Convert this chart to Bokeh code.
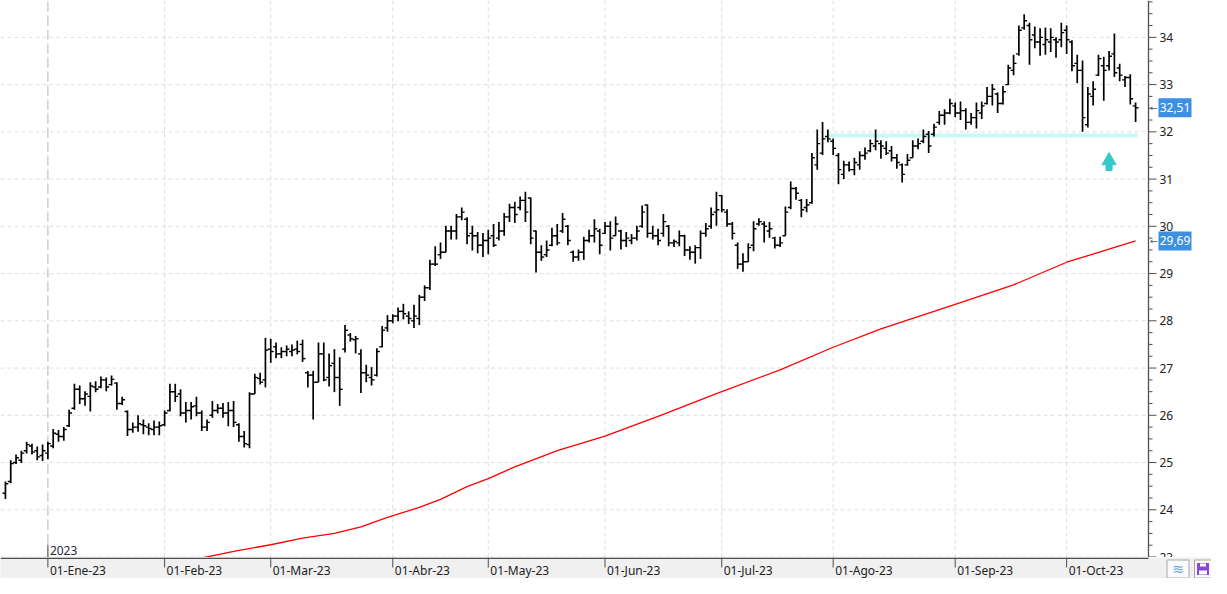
import pandas as pd
from bokeh.plotting import figure
from bokeh.layouts import column
from bokeh.models import Range1d, Span, Label, ColumnDataSource
from bokeh.core.properties import value
from bokeh.embed import file_html
from bokeh.resources import INLINE

# ---------------- data ----------------
highs = [24.60, 25.05, 25.17, 25.25, 25.44, 25.40, 25.34, 25.38, 25.44, 25.71,
         25.69, 25.75, 26.12, 26.67, 26.63, 26.51, 26.70, 26.72, 26.82, 26.80,
         26.84, 26.70, 26.39, 26.10, 25.85, 26.00, 25.91, 25.83, 25.89, 25.87,
         26.10, 26.67, 26.67, 26.55, 26.28, 26.28, 26.39, 26.10, 25.91, 26.30,
         26.24, 26.26, 26.28, 26.30, 25.83, 25.67, 26.49, 26.88, 26.90, 27.64,
         27.62, 27.54, 27.44, 27.48, 27.50, 27.58, 27.60, 26.94, 26.94, 27.54,
         27.54, 27.31, 27.40, 27.23, 27.91, 27.74, 27.68, 27.40, 27.07, 27.02,
         27.42, 27.89, 28.12, 28.14, 28.28, 28.36, 28.20, 28.34, 28.55, 28.75,
         29.29, 29.58, 29.66, 30.01, 30.01, 30.26, 30.40, 30.19, 30.01, 29.88,
         29.86, 29.93, 30.05, 30.09, 30.28, 30.48, 30.52, 30.63, 30.73, 30.61,
         29.91, 29.60, 29.70, 29.97, 30.05, 30.28, 30.03, 29.49, 29.51, 29.78,
         29.93, 30.15, 29.95, 30.09, 30.11, 30.21, 29.93, 29.88, 29.84, 30.01,
         30.44, 30.46, 30.01, 29.95, 30.26, 30.03, 29.72, 29.91, 29.82, 29.58,
         29.60, 29.91, 30.07, 30.40, 30.73, 30.67, 30.36, 30.09, 29.66, 29.43,
         29.64, 30.11, 30.17, 30.11, 30.09, 29.78, 29.78, 30.42, 30.95, 30.83,
         30.58, 30.58, 31.55, 32.05, 32.21, 32.05, 31.86, 31.55, 31.39, 31.37,
         31.45, 31.59, 31.67, 31.84, 32.05, 31.82, 31.80, 31.70, 31.53, 31.33,
         31.53, 31.82, 31.86, 32.05, 32.02, 32.17, 32.44, 32.48, 32.70, 32.62,
         32.64, 32.50, 32.40, 32.62, 32.64, 32.95, 33.01, 32.83, 32.97, 33.42,
         33.63, 34.25, 34.49, 34.31, 34.23, 34.19, 34.21, 34.19, 34.00, 34.31,
         34.25, 33.94, 33.63, 33.51, 32.95, 33.07, 33.63, 33.59, 33.71, 34.08,
         33.44, 33.18, 33.22, 32.62]

lows = [24.23, 24.56, 24.97, 24.99, 25.19, 25.17, 25.05, 25.03, 25.07, 25.30,
        25.44, 25.46, 25.75, 26.12, 26.24, 26.20, 26.08, 26.49, 26.57, 26.51,
        26.63, 26.12, 26.22, 25.56, 25.63, 25.65, 25.60, 25.58, 25.58, 25.58,
        25.77, 26.08, 26.28, 25.98, 25.85, 25.91, 25.98, 25.67, 25.67, 25.95,
        26.04, 25.95, 25.77, 25.75, 25.44, 25.32, 25.30, 26.45, 26.65, 26.59,
        27.11, 27.21, 27.21, 27.25, 27.25, 27.29, 27.13, 26.59, 25.91, 26.70,
        26.72, 26.61, 26.49, 26.20, 27.33, 27.56, 27.31, 26.47, 26.70, 26.63,
        26.82, 27.44, 27.77, 27.95, 27.99, 28.03, 27.93, 27.85, 27.91, 28.42,
        28.65, 29.16, 29.31, 29.45, 29.72, 29.72, 30.13, 29.62, 29.49, 29.43,
        29.35, 29.41, 29.56, 29.70, 29.80, 30.09, 30.07, 30.34, 30.09, 29.62,
        29.02, 29.27, 29.35, 29.58, 29.60, 29.86, 29.60, 29.25, 29.27, 29.29,
        29.66, 29.66, 29.41, 29.84, 29.49, 29.80, 29.51, 29.56, 29.62, 29.70,
        29.97, 29.76, 29.72, 29.60, 29.78, 29.58, 29.56, 29.58, 29.37, 29.29,
        29.21, 29.31, 29.78, 29.95, 30.01, 30.30, 29.99, 29.72, 29.10, 29.04,
        29.25, 29.47, 30.01, 29.66, 29.76, 29.53, 29.56, 29.80, 30.36, 30.56,
        30.19, 30.30, 30.48, 31.20, 31.51, 31.78, 31.51, 30.89, 31.00, 31.16,
        31.08, 31.20, 31.41, 31.57, 31.61, 31.43, 31.51, 31.37, 31.22, 30.93,
        31.28, 31.45, 31.63, 31.76, 31.55, 31.90, 32.15, 32.15, 32.37, 32.31,
        32.25, 32.05, 32.15, 32.07, 32.27, 32.58, 32.56, 32.40, 32.58, 32.99,
        33.20, 33.61, 34.16, 33.42, 33.77, 33.61, 33.63, 33.69, 33.57, 33.79,
        33.65, 33.28, 33.03, 32.00, 32.09, 32.56, 33.18, 32.66, 33.30, 33.16,
        33.07, 32.95, 32.58, 32.21]

opens = [24.35, 24.60, 25.00, 25.05, 25.25, 25.35, 25.25, 25.15, 25.20, 25.35,
         25.60, 25.55, 25.78, 26.15, 26.55, 26.35, 26.40, 26.60, 26.60, 26.75,
         26.65, 26.68, 26.25, 26.08, 25.70, 25.75, 25.80, 25.75, 25.70, 25.75,
         25.80, 26.10, 26.50, 26.45, 26.05, 26.10, 26.20, 26.05, 25.75, 26.00,
         26.10, 26.15, 26.05, 26.10, 25.80, 25.55, 25.38, 26.45, 26.78, 26.75,
         27.40, 27.45, 27.30, 27.35, 27.35, 27.40, 27.50, 26.90, 26.85, 26.70,
         27.30, 26.80, 27.10, 26.80, 27.40, 27.70, 27.60, 27.30, 26.90, 26.80,
         26.85, 27.45, 27.85, 28.00, 28.10, 28.20, 28.10, 28.00, 28.05, 28.50,
         28.70, 29.20, 29.40, 29.45, 29.90, 29.90, 30.20, 30.15, 29.85, 29.80,
         29.60, 29.70, 29.80, 29.75, 29.90, 30.20, 30.40, 30.40, 30.55, 30.60,
         29.90, 29.45, 29.40, 29.60, 29.80, 29.90, 30.00, 29.45, 29.35, 29.45,
         29.70, 29.80, 29.90, 29.85, 30.00, 29.80, 29.90, 29.70, 29.70, 29.75,
         30.00, 30.45, 29.85, 29.80, 29.85, 30.00, 29.65, 29.65, 29.80, 29.50,
         29.45, 29.55, 29.85, 30.00, 30.30, 30.65, 30.30, 30.05, 29.60, 29.20,
         29.25, 29.60, 30.05, 30.05, 29.90, 29.75, 29.60, 29.80, 30.40, 30.80,
         30.55, 30.40, 30.50, 31.30, 31.55, 31.90, 31.80, 31.50, 31.10, 31.30,
         31.20, 31.30, 31.50, 31.60, 31.70, 31.75, 31.65, 31.60, 31.45, 31.30,
         31.30, 31.45, 31.70, 31.80, 31.95, 31.95, 32.20, 32.35, 32.40, 32.55,
         32.40, 32.45, 32.20, 32.30, 32.40, 32.60, 32.75, 32.80, 32.60, 33.00,
         33.30, 33.65, 34.20, 34.25, 34.05, 33.90, 33.85, 33.90, 33.95, 33.95,
         34.15, 33.90, 33.45, 33.30, 32.15, 32.75, 33.20, 33.40, 33.40, 33.65,
         33.35, 33.10, 33.15, 32.55]

closes = [24.55, 24.98, 25.10, 25.20, 25.38, 25.22, 25.12, 25.25, 25.40, 25.62,
          25.55, 25.70, 26.05, 26.55, 26.35, 26.45, 26.62, 26.55, 26.75, 26.60,
          26.76, 26.25, 26.33, 25.70, 25.75, 25.82, 25.78, 25.72, 25.75, 25.78,
          26.05, 26.50, 26.40, 26.05, 26.10, 26.18, 26.05, 25.75, 25.85, 26.10,
          26.15, 26.05, 26.10, 25.85, 25.55, 25.40, 26.45, 26.80, 26.70, 27.38,
          27.35, 27.30, 27.35, 27.40, 27.38, 27.35, 27.20, 26.85, 26.70, 27.30,
          26.75, 27.05, 26.80, 26.55, 27.80, 27.62, 27.62, 26.90, 26.85, 26.75,
          27.35, 27.80, 28.00, 28.10, 28.20, 28.15, 28.05, 28.10, 28.50, 28.70,
          29.20, 29.20, 29.45, 29.90, 29.90, 30.20, 30.30, 29.80, 29.80, 29.60,
          29.70, 29.75, 29.60, 29.90, 30.20, 30.40, 30.25, 30.55, 30.30, 29.75,
          29.45, 29.35, 29.50, 29.80, 29.65, 30.15, 29.70, 29.35, 29.45, 29.70,
          29.80, 29.95, 29.60, 30.00, 29.75, 30.05, 29.70, 29.75, 29.75, 29.90,
          30.30, 29.85, 29.80, 29.70, 30.10, 29.65, 29.68, 29.80, 29.50, 29.45,
          29.55, 29.85, 29.95, 30.25, 30.35, 30.35, 30.05, 29.85, 29.20, 29.25,
          29.55, 29.95, 30.10, 30.00, 29.95, 29.60, 29.65, 30.30, 30.80, 30.70,
          30.35, 30.45, 31.45, 31.75, 31.85, 31.85, 31.65, 31.20, 31.30, 31.20,
          31.35, 31.50, 31.55, 31.75, 31.80, 31.70, 31.55, 31.45, 31.35, 31.10,
          31.40, 31.70, 31.75, 31.90, 31.70, 32.10, 32.35, 32.40, 32.60, 32.40,
          32.45, 32.20, 32.30, 32.45, 32.55, 32.75, 32.90, 32.60, 32.85, 33.35,
          33.45, 34.15, 34.35, 33.95, 33.90, 34.00, 33.95, 34.00, 33.90, 34.10,
          33.95, 33.40, 33.30, 32.30, 32.80, 32.90, 33.55, 33.30, 33.60, 33.25,
          33.20, 33.15, 32.70, 32.51]

# 200-session moving average, read at a few sessions (bar index, value)
ma_idx = [37, 44, 50, 56, 62, 67, 72, 78, 82, 87, 91, 96, 104, 113, 124,
          134, 146, 156, 165, 179, 190, 200, 213]
ma_val = [22.98, 23.14, 23.26, 23.40, 23.50, 23.64, 23.84, 24.05, 24.22, 24.49,
          24.66, 24.91, 25.25, 25.56, 26.02, 26.46, 26.96, 27.44, 27.83, 28.35,
          28.76, 29.24, 29.69]

support_level = 31.92
support_from, support_to = 155, 213
arrow_idx, arrow_price = 208, 31.39

price_ticks = list(range(23, 35))
last_close_label = "32,51"
ma_last_label = "29,69"
year_label = "2023"

meses = ["Ene", "Feb", "Mar", "Abr", "May", "Jun", "Jul", "Ago", "Sep", "Oct", "Nov", "Dic"]
holidays = ["2022-12-26", "2023-04-07", "2023-04-10", "2023-05-01"]
dates = pd.bdate_range("2022-12-20", "2023-10-19", freq="C", holidays=holidays)
n = len(highs)
dates = dates[:n]
idx = list(range(n))

month_ticks = [i for i in range(1, n) if dates[i].month != dates[i - 1].month]
month_labels = ["01-%s-%s" % (meses[dates[i].month - 1], dates[i].strftime("%y"))
                for i in month_ticks]
year_start = month_ticks[0]

# ---------------- layout constants ----------------
W = 1211
MAIN_H, STRIP_H = 557, 21
RB = 63                          # width of the price-scale area on the right
FW = W - RB
X0, X1 = -0.93, 215.43           # visible bar range of the chart area
Y0, Y1 = 22.99, 34.78
FONT = "Noto Sans"
PX = (X1 - X0) / FW              # data units per pixel (x)
PY = (Y1 - Y0) / MAIN_H          # data units per pixel (y)
XE = X0 + W * PX                 # right edge of the canvas in data units
AX = "#505050"

# ---------------- main chart ----------------
p = figure(width=W, height=MAIN_H, x_range=Range1d(X0, XE), y_range=Range1d(Y0, Y1),
           output_backend="svg", toolbar_location=None, x_axis_location=None,
           y_axis_location=None, min_border=0,
           background_fill_color="white", border_fill_color="white", outline_line_color=None)
p.grid.visible = False

# dashed grid
p.segment(x0=[X0] * len(price_ticks), x1=[X1] * len(price_ticks), y0=price_ticks,
          y1=price_ticks, line_color="#dedede", line_dash="4 3", line_width=1)
p.segment(x0=month_ticks, x1=month_ticks, y0=[Y0] * len(month_ticks),
          y1=[Y1] * len(month_ticks), line_color="#dedede", line_dash="4 3", line_width=1)

# year separator
p.segment(x0=[year_start], x1=[year_start], y0=[Y0], y1=[Y1], line_color="#bdbdbd",
          line_dash="9 5", line_width=1)
p.segment(x0=[year_start], x1=[year_start], y0=[Y0], y1=[Y0 + 13 * PY],
          line_color=AX, line_width=1)
p.text(x=[year_start], y=[Y0 + 3 * PY], text=[year_label], x_offset=2,
       text_baseline="bottom", text_align="left", text_font=value(FONT),
       text_font_size="12px", text_color="#2a2a3a")

# support line
p.segment(x0=[support_from], x1=[support_to + 0.4], y0=[support_level], y1=[support_level],
          line_color="#c9f7f7", line_width=4)

# moving average
p.line(ma_idx, ma_val, line_color="#ff0000", line_width=1.3)

# OHLC bars
src = ColumnDataSource(dict(i=idx, il=[i - 0.55 for i in idx], ir=[i + 0.55 for i in idx],
                            o=opens, h=highs, l=lows, c=closes))
p.segment(x0="i", y0="l", x1="i", y1="h", source=src, line_color="black", line_width=1.7)
p.segment(x0="il", y0="o", x1="i", y1="o", source=src, line_color="black", line_width=1.4)
p.segment(x0="i", y0="c", x1="ir", y1="c", source=src, line_color="black", line_width=1.4)

# up arrow marker (head + shaft)
p.scatter([arrow_idx], [arrow_price], marker="triangle", size=14,
          fill_color="#35c9c9", line_color="#35c9c9")
p.scatter([arrow_idx], [arrow_price - 7 * PY], marker="square", size=6,
          fill_color="#35c9c9", line_color="#35c9c9")

# price scale (right)
minor = [t + q for t in [22] + price_ticks for q in (0.25, 0.5, 0.75)]
p.segment(x0=[X1], x1=[X1], y0=[Y0], y1=[Y1], line_color=AX, line_width=1.3)
p.segment(x0=[X1] * len(price_ticks), x1=[X1 + 8 * PX] * len(price_ticks),
          y0=price_ticks, y1=price_ticks, line_color=AX, line_width=1)
p.segment(x0=[X1] * len(minor), x1=[X1 + 4 * PX] * len(minor),
          y0=minor, y1=minor, line_color=AX, line_width=1)
p.text(x=[X1 + 11 * PX] * len(price_ticks), y=price_ticks,
       text=[str(t) for t in price_ticks], text_baseline="middle", text_align="left",
       text_font=value(FONT), text_font_size="12px", text_color="#222222")

# price tags
tag_vals = [closes[-1], ma_val[-1]]
tag_txt = [last_close_label, ma_last_label]
p.rect(x=[X1 + 26.5 * PX] * 2, y=tag_vals, width=[33 * PX] * 2, height=[19 * PY] * 2,
       fill_color="#3d8fe3", line_color=None)
p.text(x=[X1 + 26.5 * PX] * 2, y=tag_vals, text=tag_txt, text_baseline="middle",
       text_align="center", text_font=value(FONT), text_font_size="12px",
       text_color="white")
p.text(x=[X1 + 1.5 * PX] * 2, y=tag_vals, text=["\u2190", "\u2190"], text_baseline="middle",
       text_align="left", text_font=value("DejaVu Sans"), text_font_size="9px",
       text_color="#555555")

# ---------------- date strip (x axis) ----------------
s = figure(width=W, height=STRIP_H, x_range=Range1d(X0, XE), y_range=Range1d(0, STRIP_H),
           output_backend="svg", toolbar_location=None, x_axis_location=None,
           y_axis_location=None, min_border=0, background_fill_color="#f0f0f0",
           border_fill_color="#f0f0f0", outline_line_color=None)
s.grid.visible = False

s.segment(x0=[X0], x1=[X1], y0=[STRIP_H - 0.75], y1=[STRIP_H - 0.75],
          line_color="#4d4d4d", line_width=1.5)
s.segment(x0=month_ticks, x1=month_ticks, y0=[STRIP_H] * len(month_ticks),
          y1=[STRIP_H - 10] * len(month_ticks), line_color="#4d4d4d", line_width=1)
s.text(x=month_ticks, y=[STRIP_H - 13] * len(month_ticks), text=month_labels,
       x_offset=2, text_baseline="middle", text_align="left",
       text_font=value(FONT), text_font_size="12px", text_color="#222222")

# small tool icons at the right end of the strip
ic = [X1 + 29.5 * PX, X1 + 54.5 * PX]
s.rect(x=ic, y=[STRIP_H / 2 - 1] * 2, width=[22 * PX, 17 * PX], height=[18, 18],
       fill_color="#fbfbfb", line_color="#a8a8a8", line_width=1)
s.text(x=[ic[0]], y=[STRIP_H / 2 - 1], text=["\u224b"], text_align="center",
       text_baseline="middle", text_font=value("DejaVu Sans"), text_font_size="14px",
       text_color="#6a9fe0")
s.rect(x=[ic[1]], y=[STRIP_H / 2 - 1], width=[12 * PX], height=[12],
       fill_color="#8e44d6", line_color=None)
s.rect(x=[ic[1]], y=[STRIP_H / 2 + 3], width=[6 * PX], height=[3],
       fill_color="white", line_color=None)
s.rect(x=[ic[1]], y=[STRIP_H / 2 - 4.5], width=[8 * PX], height=[4],
       fill_color="white", line_color=None)

open("out.html", "w").write(file_html(column(p, s, spacing=0), INLINE))
